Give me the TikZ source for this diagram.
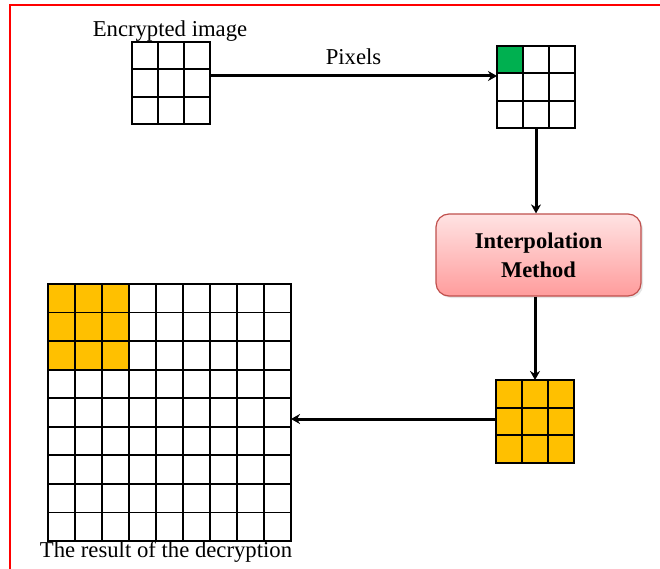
\documentclass[tikz,border=0pt]{standalone}
\usepackage{fontspec}
\setmainfont{Liberation Serif}
\usetikzlibrary{calc,arrows.meta,shadows}
\newcommand\mkgrid[6]{% name, cx, cy, w, h, n
  \node[gridframe, minimum width=#4pt, minimum height=#5pt] (#1) at (#2,#3) {};
  \foreach \k in {1,...,\numexpr#6-1\relax}{
    \draw[gridline] ($(#1.north west)!\k/#6!(#1.north east)$) -- ($(#1.south west)!\k/#6!(#1.south east)$);
    \draw[gridline] ($(#1.north west)!\k/#6!(#1.south west)$) -- ($(#1.north east)!\k/#6!(#1.south east)$);
  }
  \draw[gridline] (#1.north west) rectangle (#1.south east);
}
\definecolor{cellgreen}{HTML}{00B050}
\definecolor{cellorange}{HTML}{FFC000}
\definecolor{boxtop}{HTML}{FFE3E3}
\definecolor{boxbot}{HTML}{FF9C9C}
\definecolor{boxedge}{HTML}{C0504D}
\begin{document}
\begin{tikzpicture}[x=1pt,y=1pt,
  gridframe/.style={rectangle, inner sep=0, outer sep=0},
  gridline/.style={draw=black, line width=1.8pt},
  conn/.style={draw=black, line width=3pt, -{Stealth[length=9pt,width=10pt]}},
  lbl/.style={font=\fontsize{22.7}{27}\selectfont, inner sep=0},
  proc/.style={rectangle, rounded corners=13pt, draw=boxedge, line width=1.2pt,
    top color=boxtop, bottom color=boxbot, minimum width=205pt, minimum height=82pt,
    align=center, font=\fontsize{22.5}{29}\selectfont\bfseries,
    drop shadow={opacity=0.2, shadow xshift=2pt, shadow yshift=-2pt}}]
\useasboundingbox (0,0) rectangle (660,-569);
\fill[white] (0,0) rectangle (660,-569);
\draw[red, line width=1.5pt] (10,-569) -- (10,-5) -- (660,-5);

% encrypted image grid
\mkgrid{enc}{171}{-83}{78}{82}{3}
\draw[black, line width=2.5pt] (enc.north west) -- (enc.north east);
\node[lbl] (enclbl) at (170,-31) {Encrypted image};

% pixel grid with green cell
\fill[cellgreen] (497,-46) rectangle (523,-73);
\mkgrid{pix}{536}{-87}{78}{82}{3}
\draw[black, line width=2.5pt] (pix.north west) -- (pix.north east);

% interpolation box
\node[proc] (interp) at (538.5,-255) {Interpolation\\Method};

% orange grid
\fill[cellorange] (496,-380) rectangle (574,-463);
\mkgrid{org}{535}{-421.5}{78}{83}{3}
\draw[black, line width=2.5pt] (org.north west) -- (org.north east);

% big result grid
\fill[cellorange] (48,-284) rectangle (129,-369);
\mkgrid{big}{169.5}{-412.5}{243}{257}{9}
\node[lbl] (biglbl) at (166,-552) {The result of the decryption};

% connectors
\coordinate (encout) at ($(enc.east)+(0,7)$);
\coordinate (pixin) at ($(pix.west)+(0,11)$);
\coordinate (orgout) at ($(org.west)+(0,2.5)$);
\draw[conn] (encout) -- node[lbl, above=10pt] (pixlbl) {Pixels} (pixin);
\draw[conn] (pix.south) -- (pix.south |- interp.north);
\draw[conn] (interp.south -| org.north) -- (org.north);
\draw[conn] (orgout) -- (orgout -| big.east);
\end{tikzpicture}
\end{document}
